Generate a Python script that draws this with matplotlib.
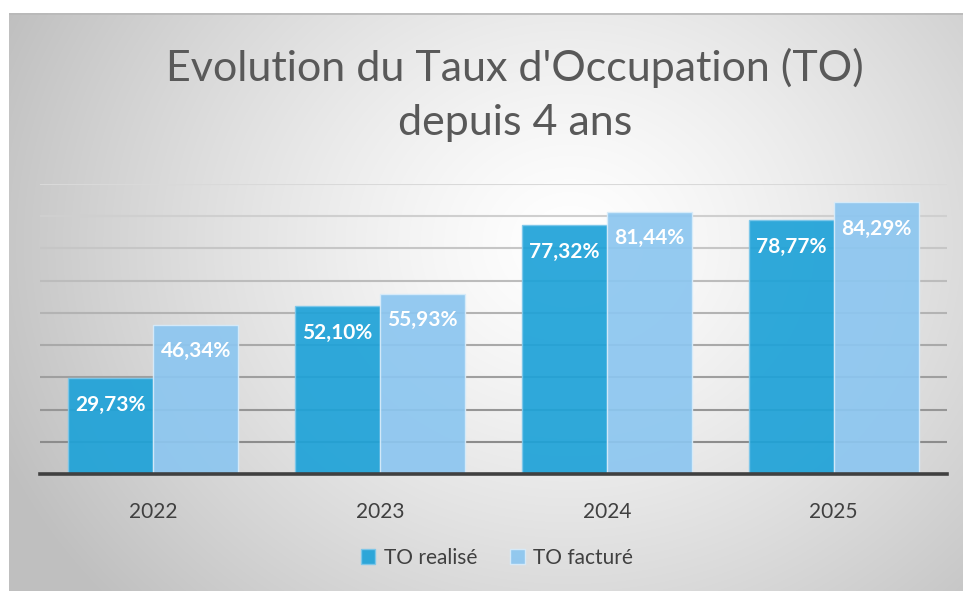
import numpy as np
import matplotlib
matplotlib.use("Agg")
import matplotlib.pyplot as plt

years = ["2022", "2023", "2024", "2025"]
to_realise = [29.73, 52.10, 77.32, 78.77]
to_facture = [46.34, 55.93, 81.44, 84.29]
series_names = ["TO realisé", "TO facturé"]
title = "Evolution du Taux d'Occupation (TO)\ndepuis 4 ans"

W, H = 963, 591
fig = plt.figure(figsize=(W / 100, H / 100), dpi=100)
fig.patch.set_facecolor("white")
plt.rcParams['font.family'] = ['Lato', 'DejaVu Sans']

# background gradient panel
bx0, by0 = 9, 13
bg = fig.add_axes([bx0 / W, 0, 1 - bx0 / W, 1 - by0 / H])
bg.set_axis_off()
gw, gh = W - bx0, H - by0
yy, xx = np.mgrid[0:gh, 0:gw]
cx, cy = 560, 230
d = np.sqrt(((xx - cx) / 620.0) ** 2 + ((yy - cy) / 540.0) ** 2)
d = np.clip(d, 0, 1)
val = 1.0 - 0.25 * d ** 1.3
img = np.dstack([val, val, val])
bg.imshow(img, aspect="auto", extent=[0, gw, gh, 0], interpolation="bilinear")
bg.set_xlim(0, gw)
bg.set_ylim(gh, 0)
bg.plot([0, gw], [0.5, 0.5], color="#b8b8b8", lw=1.2)

# main axes
left, right, bottom, top = 40, 947, 474, 184
ax = fig.add_axes([left / W, 1 - bottom / H, (right - left) / W, (bottom - top) / H])
ax.set_facecolor("none")
x = np.arange(len(years))
bw = 0.375
ax.set_xlim(-0.5, len(years) - 0.5)
ax.set_ylim(0, 90)
ax.set_yticks(np.arange(10, 91, 10))
ax.tick_params(axis="y", left=False, labelleft=False)
ax.tick_params(axis="x", bottom=False, labelsize=15, colors="#404040", pad=17)
ax.set_xticks(x)
ax.set_xticklabels(years)
for s in ["top", "right", "left"]:
    ax.spines[s].set_visible(False)
ax.spines["bottom"].set_color("#404040")
ax.spines["bottom"].set_linewidth(2.6)
ax.spines["bottom"].set_zorder(5)

# gridlines, lighter towards top
gy = np.arange(10, 91, 10)
for v in gy:
    shade = 0.55 + 0.30 * (v - 10) / 80
    ax.axhline(v, color=(shade, shade, shade), lw=1.5, zorder=1)

b1 = ax.bar(x - bw / 2, to_realise, bw, color="#1ea2d8", alpha=0.92,
            edgecolor="#7cc7ea", linewidth=1.0, label=series_names[0], zorder=2)
b2 = ax.bar(x + bw / 2, to_facture, bw, color="#8cc6f0", alpha=0.92,
            edgecolor="#d8ecfa", linewidth=1.0, label=series_names[1], zorder=2)

def fmt(v):
    return ("%.2f%%" % v).replace(".", ",")

for bars, vals in ((b1, to_realise), (b2, to_facture)):
    for r, v in zip(bars, vals):
        ax.annotate(fmt(v), (r.get_x() + r.get_width() / 2, v),
                    xytext=(0, -12), textcoords="offset points",
                    ha="center", va="top", color="white",
                    fontsize=15, fontweight="bold", zorder=6)

fig.text(515 / W, 1 - 95 / H, title, ha="center", va="center",
         fontsize=31, color="#595959", linespacing=1.5)

leg = fig.legend(handles=[b1, b2], labels=series_names, loc="center",
                 bbox_to_anchor=(497 / W, 1 - 558 / H), ncol=2, frameon=False,
                 fontsize=15, handlelength=0.7, handleheight=0.7,
                 handletextpad=0.4, columnspacing=1.6)
for t in leg.get_texts():
    t.set_color("#404040")

fig.savefig("out.png", dpi=100)
